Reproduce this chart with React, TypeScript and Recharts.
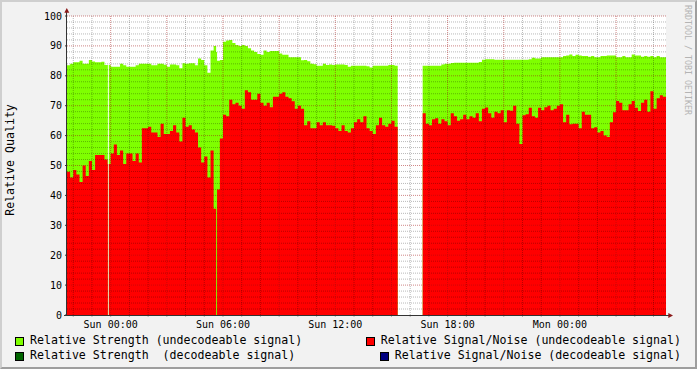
import React from 'react';

import { Area, CartesianGrid, ComposedChart, ReferenceLine, XAxis, YAxis } from 'recharts';

// samples every 10 minutes, time in minutes relative to Sun 00:00
const START_MIN = -140;
const STEP_MIN = 10;

// Relative Strength (undecodeable signal)
const strength = [
    83.5, 84, 84.5, 84.5, 85, 84, 84, 85.3, 84.8, 84.5, 84.5, 84.7, 83.6, 83.6, 83, 83,
    83, 84, 83.5, 83, 83, 83, 83.5, 84, 84, 84, 84, 83.5, 83.5, 84, 84, 83.7,
    83, 83.8, 83.8, 83.5, 82.5, 84.2, 84, 84.2, 84.2, 83.5, 85.8, 85.3, 83.5, 81, 88.5, 90,
    85, 85.3, 91.4, 91.8, 92, 91, 90.3, 90, 90.3, 90, 89.2, 88.5, 88, 87.3, 87, 88.5,
    88, 88.3, 88.3, 88.3, 87.5, 87, 87, 86.2, 86.2, 86.2, 86.2, 85.2, 85.3, 84.9, 84, 83.9,
    83.4, 83.4, 84, 83.6, 83.8, 83.6, 83.8, 83.8, 83.8, 83.6, 83, 83.4, 83.4, 83.4, 83.4, 83.4,
    83.2, 82.8, 83.4, 83.4, 83.4, 83.4, 83.4, 83.6, 83.6, 83.4, null, null, null, null, null, null,
    null, null, 83.4, 83.4, 83.4, 83.4, 83.4, 83.4, 83.8, 84, 84, 84.3, 84.4, 84.4, 84.4, 84.4,
    84.4, 84.4, 84.4, 84.4, 84.6, 85.4, 85.5, 85.5, 85.5, 85.4, 85.4, 85.4, 85.4, 85.4, 85.4, 85.4,
    85.4, 85.4, 85.4, 85.4, 85.5, 86, 85.8, 85.8, 86.2, 86.2, 86.2, 86.2, 86.2, 86.2, 86.2, 86.6,
    86.8, 87.1, 86.6, 87, 86.8, 86.6, 86.6, 86.4, 86.6, 86.2, 86.2, 86.6, 86.6, 86.8, 86.8, 86.8,
    86.2, 86.2, 86.6, 86.2, 86.2, 87.1, 86.8, 86.8, 86.4, 86.6, 86.4, 86.6, 86.2, 86.6, 86.2, 86.2,
];

// Relative Signal/Noise (undecodeable signal)
const snr = [
    47.9, 46, 48.5, 47, 44.5, 50, 46.5, 51.5, 48.5, 53.5, 53.5, 53.5, 52, 50.5, 54, 57,
    53.5, 55, 50.5, 54, 54, 51.5, 54, 51, 62.5, 62.5, 63, 61, 61, 59.5, 64, 60.5,
    60.5, 61.5, 63.5, 61, 58, 66, 63, 63.5, 62, 61, 56, 51, 53, 46, 55, 35.5,
    42, 59, 67, 66.5, 72, 70.5, 71, 70, 69, 75.2, 74.5, 72, 72, 74, 71, 70,
    71, 69.5, 73, 73, 74, 74.5, 73, 72.5, 71.5, 69, 70, 69, 63.5, 64.8, 62.5, 62.5,
    64.5, 63.5, 64.5, 63.5, 63.5, 63.3, 62.5, 61.5, 63.5, 61.5, 61, 62.5, 64.5, 65.5, 64.5, 66.5,
    62.5, 61.5, 60.5, 63.5, 66, 63.5, 63, 64, 65, 63, null, null, null, null, null, null,
    null, null, 67.5, 64, 63.5, 65.5, 65.8, 64, 65.5, 64.8, 63.5, 67.5, 66.5, 65, 65.5, 67,
    65.5, 66.5, 66, 67.5, 64.8, 69, 69.4, 67.5, 66, 68, 67.5, 68.5, 64.5, 68.5, 68.3, 70,
    64, 57.2, 66.8, 67.1, 69.3, 66.5, 66, 69.3, 68.5, 69.5, 70, 68.5, 69, 70, 70.5, 64.5,
    67, 63.8, 64, 64, 62.5, 68, 67, 67, 62.5, 62.8, 61, 61.5, 60, 59.5, 64.5, 67.8,
    71.6, 71, 68.5, 68.5, 70.5, 71.6, 69.3, 68.2, 71, 72, 68, 74.8, 69, 72.5, 73.5, 73,
];

// short dropouts (shorter than one sample)
const spikeTimes = [-9, 338];
const spikeStrength = [0, 88];
const spikeSnr = [0, 0];
const SPIKE_LEN = 3;

const labelTimes = [0, 360, 720, 1080, 1440];
const labelTexts = ['Sun 00:00', 'Sun 06:00', 'Sun 12:00', 'Sun 18:00', 'Mon 00:00'];

const yTicks = [0, 10, 20, 30, 40, 50, 60, 70, 80, 90, 100];

const legendNames = [
    'Relative Strength (undecodeable signal)',
    'Relative Signal/Noise (undecodeable signal)',
    'Relative Strength  (decodeable signal)',
    'Relative Signal/Noise (decodeable signal)',
];
const legendColors = ['#7FFF00', '#FF0000', '#006400', '#000080'];

const FONT = "'DejaVu Sans Mono', monospace";

type Row = { t: number; strength: number | null; snr: number | null };

function buildRows(): Row[] {
    const n = strength.length;
    let rows: Row[] = [];
    for (let i = 0; i < n; i++) {
        const t = START_MIN + i * STEP_MIN;
        rows.push({ t, strength: strength[i], snr: snr[i] });
        if (strength[i] != null && (i === n - 1 || strength[i + 1] == null)) {
            rows.push({ t: t + STEP_MIN, strength: strength[i], snr: snr[i] });
        }
    }
    spikeTimes.forEach((ts, k) => {
        const te = ts + SPIKE_LEN;
        const j = Math.floor((te - START_MIN) / STEP_MIN);
        rows = rows.filter((r) => r.t <= ts || r.t >= te);
        rows.push({ t: ts, strength: spikeStrength[k], snr: spikeSnr[k] });
        rows.push({ t: te, strength: strength[j], snr: snr[j] });
    });
    return rows.sort((a, b) => a.t - b.t);
}

const data = buildRows();

const END_MIN = START_MIN + strength.length * STEP_MIN;

const hourTicks: number[] = [];
for (let t = Math.ceil(START_MIN / 60) * 60; t < END_MIN; t += 60) hourTicks.push(t);
const minorX = hourTicks.filter((t) => t % 180 !== 0);
const majorX = hourTicks.filter((t) => t % 180 === 0);
const minorY: number[] = [];
for (let v = 2; v < 100; v += 2) if (v % 10 !== 0) minorY.push(v);
const majorY = yTicks.filter((v) => v > 0);

const fmtX = (v: number) => {
    const k = labelTimes.indexOf(v);
    return k >= 0 ? labelTexts[k] : '';
};

const LegendRow = ({ items }: { items: number[] }) => (
    <div style={{ display: 'flex', justifyContent: 'space-between', width: 666 }}>
        {items.map((k) => (
            <div key={k} style={{ display: 'flex', alignItems: 'flex-start' }}>
                <span
                    style={{
                        display: 'inline-block',
                        boxSizing: 'border-box',
                        width: 9,
                        height: 9,
                        marginTop: 3,
                        background: legendColors[k],
                        border: '1px solid #000',
                    }}
                />
                <span style={{ marginLeft: 6, whiteSpace: 'pre' }}>{legendNames[k]}</span>
            </div>
        ))}
    </div>
);

// rrdtool draws its grid on top of the graph, so the grid lives in a second, transparent chart
const GridOverlay = () => (
    <div style={{ position: 'absolute', left: 0, top: 0, width: 697, height: 369, pointerEvents: 'none' }}>
        <ComposedChart width={697} height={369} data={data} margin={{ top: 16, right: 31, bottom: 54, left: 67 }}>
            <XAxis dataKey="t" type="number" domain={[START_MIN, END_MIN]} hide allowDataOverflow />
            <YAxis type="number" domain={[0, 100]} hide />
            <Area
                isAnimationActive={false}
                type="stepAfter"
                dataKey="snr"
                fill="none"
                stroke="none"
                dot={false}
                activeDot={false}
            />
            {minorY.map((v) => (
                <ReferenceLine key={'my' + v} y={v} stroke="#000" strokeOpacity={0.28} strokeDasharray="1 1" />
            ))}
            {minorX.map((v) => (
                <ReferenceLine key={'mx' + v} x={v} stroke="#000" strokeOpacity={0.28} strokeDasharray="1 1" />
            ))}
            {majorY.map((v) => (
                <ReferenceLine key={'My' + v} y={v} stroke="#a01010" strokeOpacity={0.5} strokeDasharray="1 1" />
            ))}
            {majorX.map((v) => (
                <ReferenceLine key={'Mx' + v} x={v} stroke="#a01010" strokeOpacity={0.5} strokeDasharray="1 1" />
            ))}
        </ComposedChart>
    </div>
);

export default function App() {
    return (
        <div
            style={{
                position: 'absolute',
                left: 0,
                top: 0,
                width: 697,
                height: 369,
                background: '#f2f2f2',
                fontFamily: FONT,
                overflow: 'hidden',
            }}
        >
            <ComposedChart width={697} height={369} data={data} margin={{ top: 16, right: 31, bottom: 0, left: 0 }}>
                <CartesianGrid horizontal={false} vertical={false} fill="#ffffff" stroke="none" />
                <XAxis
                    dataKey="t"
                    type="number"
                    domain={[START_MIN, END_MIN]}
                    ticks={hourTicks}
                    interval={0}
                    tickFormatter={fmtX}
                    height={54}
                    axisLine={false}
                    tickLine={{ stroke: '#b0b0b0' }}
                    tickSize={2}
                    tickMargin={4}
                    tick={{ fontFamily: FONT, fontSize: 10, fill: '#000' }}
                    allowDataOverflow
                />
                <YAxis
                    type="number"
                    domain={[0, 100]}
                    ticks={yTicks}
                    interval={0}
                    width={67}
                    axisLine={false}
                    tickLine={{ stroke: '#333' }}
                    tickSize={2}
                    tickMargin={3}
                    tick={{ fontFamily: FONT, fontSize: 10, fill: '#000' }}
                />
                <Area
                    isAnimationActive={false}
                    type="stepAfter"
                    dataKey="strength"
                    name="Relative Strength (undecodeable signal)"
                    fill="#7FFF00"
                    fillOpacity={1}
                    stroke="none"
                    baseValue={0}
                    dot={false}
                    activeDot={false}
                />
                <Area
                    isAnimationActive={false}
                    type="stepAfter"
                    dataKey="snr"
                    name="Relative Signal/Noise (undecodeable signal)"
                    fill="#FF0000"
                    fillOpacity={1}
                    stroke="none"
                    baseValue={0}
                    dot={false}
                    activeDot={false}
                />
            </ComposedChart>

            <GridOverlay />

            <svg
                width={697}
                height={369}
                style={{ position: 'absolute', left: 0, top: 0, pointerEvents: 'none' }}
            >
                <line x1={66.5} y1={315} x2={66.5} y2={11} stroke="#333" strokeWidth={1} />
                <line x1={64} y1={315.5} x2={669} y2={315.5} stroke="#333" strokeWidth={1} />
                <polygon points="64.3,12.7 69.3,12.7 66.8,8" fill="#8b1a1a" />
                <polygon points="668.3,313 668.3,318 673,315.5" fill="#8b1a1a" />
                <text
                    transform="translate(13.5,160) rotate(-90)"
                    textAnchor="middle"
                    fontFamily={FONT}
                    fontSize={11.6}
                    fill="#000"
                >
                    Relative Quality
                </text>
                <text
                    transform="translate(685,60) rotate(90)"
                    textAnchor="middle"
                    fontFamily={FONT}
                    fontSize={8.3}
                    fill="#b4b4b4"
                >
                    RRDTOOL / TOBI OETIKER
                </text>
            </svg>

            <div style={{ position: 'absolute', left: 15, top: 334, fontSize: 11.6, lineHeight: '12px', color: '#000' }}>
                <LegendRow items={[0, 1]} />
            </div>
            <div style={{ position: 'absolute', left: 15, top: 348.5, fontSize: 11.6, lineHeight: '12px', color: '#000' }}>
                <LegendRow items={[2, 3]} />
            </div>

            <div
                style={{
                    position: 'absolute',
                    left: 0,
                    top: 0,
                    width: 697,
                    height: 369,
                    boxSizing: 'border-box',
                    borderTop: '2px solid #cfcfcf',
                    borderLeft: '2px solid #cfcfcf',
                    borderRight: '2px solid #9e9e9e',
                    borderBottom: '2px solid #9e9e9e',
                    pointerEvents: 'none',
                }}
            />
        </div>
    );
}
